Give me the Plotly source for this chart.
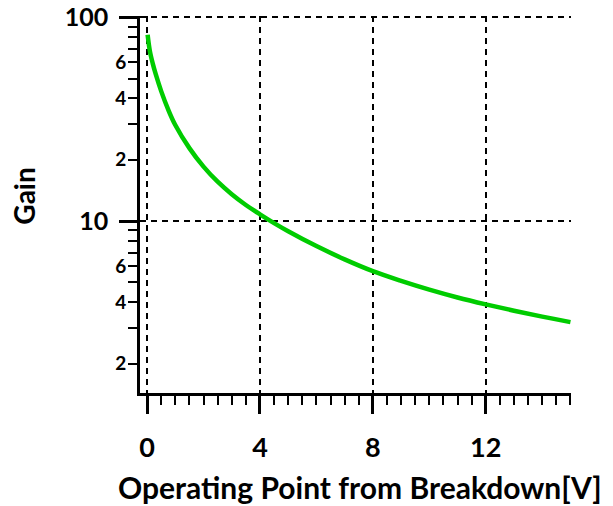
import plotly.graph_objects as go
import math

# Data
voltage = [0.02, 0.1, 0.2, 0.31, 0.5, 0.75, 1.0, 1.5, 2.0, 2.5, 3.0, 3.5, 4.0, 4.5, 5.0,
           6.0, 7.0, 8.0, 9.0, 10.0, 11.0, 12.0, 13.0, 14.0, 15.0]
gain = [82, 68.2, 59.4, 52.4, 43.4, 35.2, 29.6, 22.8, 18.5, 15.6, 13.55, 12.0, 10.8, 9.78, 8.92,
        7.54, 6.49, 5.68, 5.09, 4.61, 4.22, 3.905, 3.635, 3.40, 3.196]

x_major = [0, 4, 8, 12]
x_major_text = ["0", "4", "8", "12"]
y_major = [10, 100]
y_major_text = ["10", "100"]
y_labeled_minor = [2, 4, 6, 20, 40, 60]
y_labeled_minor_text = ["2", "4", "6", "2", "4", "6"]
y_minor = [2, 3, 4, 5, 6, 7, 8, 9, 20, 30, 40, 50, 60, 70, 80, 90]
x_title = "Operating Point from Breakdown[V]"
y_title = "Gain"

FONT = "Lato"
yrange = [math.log10(1.435), 2.006]

fig = go.Figure()
fig.add_trace(go.Scatter(x=voltage, y=gain, mode="lines", line=dict(color="#00CC00", width=4.5, shape="spline"),
                         showlegend=False, hoverinfo="skip"))
fig.add_trace(go.Scatter(x=voltage, y=gain, mode="lines", yaxis="y2", line=dict(width=0),
                         opacity=0, showlegend=False, hoverinfo="skip"))

fig.update_layout(
    width=613, height=506,
    margin=dict(l=140, r=42, t=16, b=113),
    plot_bgcolor="white", paper_bgcolor="white",
    font=dict(family=FONT, color="black"),
    xaxis=dict(
        range=[-0.25, 15.02], tickvals=x_major, ticktext=x_major_text,
        ticks="outside", ticklen=18, tickwidth=2.5, tickcolor="black",
        showline=True, linewidth=2.5, linecolor="black",
        showgrid=True, gridcolor="black", gridwidth=2, griddash="6px,5px",
        zeroline=False, automargin=False, ticklabeloverflow="allow",
        tickfont=dict(family=FONT, size=27, color="black", weight="bold"),
        ticklabelstandoff=11,
        minor=dict(dtick=0.5, ticks="outside", ticklen=9, tickwidth=2, tickcolor="black", showgrid=False),
    ),
    yaxis=dict(
        type="log", range=yrange, tickvals=y_major, ticktext=y_major_text,
        ticks="outside", ticklen=18, tickwidth=2.5, tickcolor="black",
        showline=True, linewidth=2.5, linecolor="black",
        showgrid=True, gridcolor="black", gridwidth=2, griddash="6px,5px",
        zeroline=False, automargin=False, ticklabeloverflow="allow",
        tickfont=dict(family=FONT, size=25, color="black", weight="bold"),
        ticklabelstandoff=6,
        minor=dict(tickvals=y_minor, ticks="outside", ticklen=9, tickwidth=2, tickcolor="black", showgrid=False),
    ),
    yaxis2=dict(
        type="log", range=yrange, overlaying="y", side="left",
        tickvals=y_labeled_minor, ticktext=y_labeled_minor_text,
        ticks="outside", ticklen=9, tickwidth=2, tickcolor="black",
        showline=False, showgrid=False, zeroline=False, automargin=False, ticklabeloverflow="allow",
        tickfont=dict(family=FONT, size=19, color="black", weight="bold"),
    ),
    annotations=[
        dict(text="<b>" + x_title + "</b>", xref="paper", yref="paper", x=0.51, y=-0.25,
             xanchor="center", yanchor="middle", showarrow=False,
             font=dict(family=FONT, size=30, color="black")),
        dict(text="<b>" + y_title + "</b>", xref="paper", yref="paper", x=-0.269, y=0.521,
             xanchor="center", yanchor="middle", showarrow=False, textangle=-90,
             font=dict(family=FONT, size=28, color="black")),
    ],
)

# remove the default 8px page margin so the 613x506 figure fills the window exactly
fig.write_html("out.html", config={"displayModeBar": False},
               post_script="document.body.style.margin='0';")
